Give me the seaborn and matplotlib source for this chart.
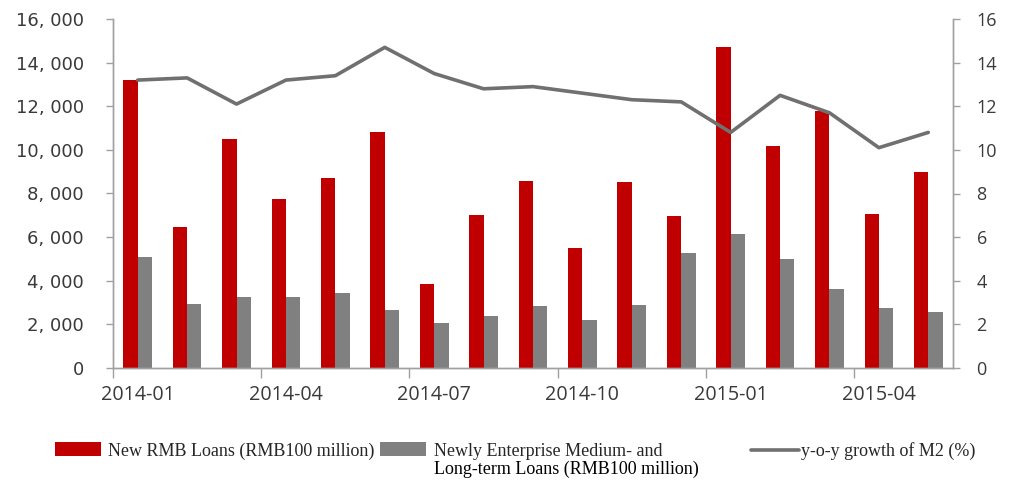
import numpy as np
import pandas as pd
import seaborn as sns
import matplotlib.pyplot as plt
from matplotlib.patches import Patch
from matplotlib.lines import Line2D
from matplotlib.ticker import FuncFormatter

# Data
months = ["2014-01", "2014-02", "2014-03", "2014-04", "2014-05", "2014-06",
          "2014-07", "2014-08", "2014-09", "2014-10", "2014-11", "2014-12",
          "2015-01", "2015-02", "2015-03", "2015-04", "2015-05"]
new_loans = [13200, 6445, 10500, 7747, 8708, 10800, 3852, 7025, 8572,
             5483, 8527, 6973, 14700, 10200, 11800, 7079, 9008]
mlt_loans = [5070, 2920, 3240, 3240, 3450, 2640, 2060, 2380, 2830,
             2220, 2870, 5260, 6130, 5010, 3610, 2750, 2550]
m2_growth = [13.2, 13.3, 12.1, 13.2, 13.4, 14.7, 13.5, 12.8, 12.9,
             12.6, 12.3, 12.2, 10.8, 12.5, 11.7, 10.1, 10.8]

label_new = "New RMB Loans (RMB100 million)"
label_mlt = "Newly Enterprise Medium- and"
label_mlt2 = "Long-term Loans (RMB100 million)"
label_m2 = "y-o-y growth of M2 (%)"

red = "#C00000"
gray = "#808080"
line_gray = "#707070"
spine_gray = "#A0A0A0"
text_col = "#3A3A3A"

df = pd.DataFrame({"month": months, "new": new_loans, "mlt": mlt_loans})
df_long = df.melt(id_vars="month", value_vars=["new", "mlt"],
                  var_name="series", value_name="value")

sns.set_theme(style="white")

fig = plt.figure(figsize=(10.09, 4.82), dpi=100)
ax = fig.add_axes([113 / 1009, 1 - 368 / 482, 840 / 1009, 349 / 482])

# bars
sns.barplot(data=df_long, x="month", y="value", hue="series",
            palette=[red, gray], width=0.58, saturation=1, linewidth=0,
            legend=False, ax=ax)

# line on the right axis
ax2 = ax.twinx()
sns.lineplot(x=np.arange(len(months)), y=m2_growth, ax=ax2,
             color=line_gray, linewidth=2.6)

ax.set_xlim(-0.5, len(months) - 0.5)
ax.set_ylim(0, 16000)
ax2.set_ylim(0, 16)
ax.set_yticks(np.arange(0, 16001, 2000))
ax2.set_yticks(np.arange(0, 17, 2))
ax.yaxis.set_major_formatter(FuncFormatter(lambda v, p: f"{int(v):,}".replace(",", ", ")))

ax.set_xticks(range(0, len(months), 3))
ax.set_xticklabels(months[::3])
ax.set_xticks(np.arange(-0.5, len(months) - 1, 3), minor=True)
ax.set_xlabel("")
ax.set_ylabel("")
ax2.set_ylabel("")

for a in (ax, ax2):
    for s in a.spines.values():
        s.set_color(spine_gray)
        s.set_linewidth(1)
    a.spines["top"].set_visible(False)
    a.grid(False)

ax.tick_params(axis="x", which="major", length=0, pad=12,
               labelsize=14.2, labelcolor=text_col)
ax.tick_params(axis="x", which="minor", length=7, width=1,
               color=spine_gray, direction="out", bottom=True)
ax.tick_params(axis="y", length=5, width=1, color=spine_gray, left=True,
               direction="out", pad=16, labelsize=13, labelcolor=text_col)
ax2.tick_params(axis="y", length=5, width=1, color=spine_gray, right=True,
                direction="out", pad=12, labelsize=13, labelcolor=text_col)
for t in ax.get_xticklabels():
    t.set_family("Open Sans")
for t in ax2.get_yticklabels():
    t.set_family("Open Sans")

# legend, three separate items to place them like the original
leg_font = {"family": "Liberation Serif", "size": 13}
ly = 1 - 451 / 482
fig.legend(handles=[Patch(facecolor=red, edgecolor="none")], labels=[label_new],
           loc="center left", bbox_to_anchor=(55 / 1009, ly), frameon=False,
           borderpad=0, borderaxespad=0, handlelength=2.55, handleheight=0.8,
           handletextpad=0.4, prop=leg_font)
fig.legend(handles=[Patch(facecolor=gray, edgecolor="none")], labels=[label_mlt],
           loc="center left", bbox_to_anchor=(380 / 1009, ly), frameon=False,
           borderpad=0, borderaxespad=0, handlelength=2.55, handleheight=0.8,
           handletextpad=0.42, prop=leg_font)
fig.text(434 / 1009, 1 - 469 / 482, label_mlt2, ha="left", va="center",
         color="black", **leg_font)
fig.legend(handles=[Line2D([], [], color=line_gray, linewidth=2.6)], labels=[label_m2],
           loc="center left", bbox_to_anchor=(751 / 1009, ly), frameon=False,
           borderpad=0, borderaxespad=0, handlelength=2.65,
           handletextpad=0.1, prop=leg_font)

plt.savefig("out.png", dpi=100)
